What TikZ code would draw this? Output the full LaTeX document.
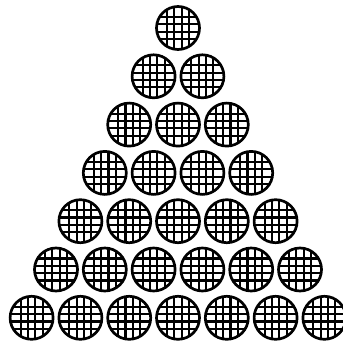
\documentclass[tikz,border=0pt]{standalone}
\begin{document}
\begin{tikzpicture}[x=0.03cm,y=-0.03cm]
    \useasboundingbox (0,0) rectangle (342,344);
    \foreach \r in {0,...,6}{
      \foreach \k in {0,...,\r}{
        \begin{scope}[shift={({178+(\k-\r/2)*48.8},{28+\r*48.3})}]
          \begin{scope}
            \clip (0,0) circle (0.645cm);
            \foreach \g in {-11,-3.7,3.7,11}{
              \draw[line width=1.8pt] (\g,-22) -- (\g,22);
              \draw[line width=1.8pt] (-22,\g) -- (22,\g);
            }
          \end{scope}
          \draw[line width=2.3pt] (0,0) circle (0.645cm);
        \end{scope}
      }
    }
  \end{tikzpicture}
\end{document}
